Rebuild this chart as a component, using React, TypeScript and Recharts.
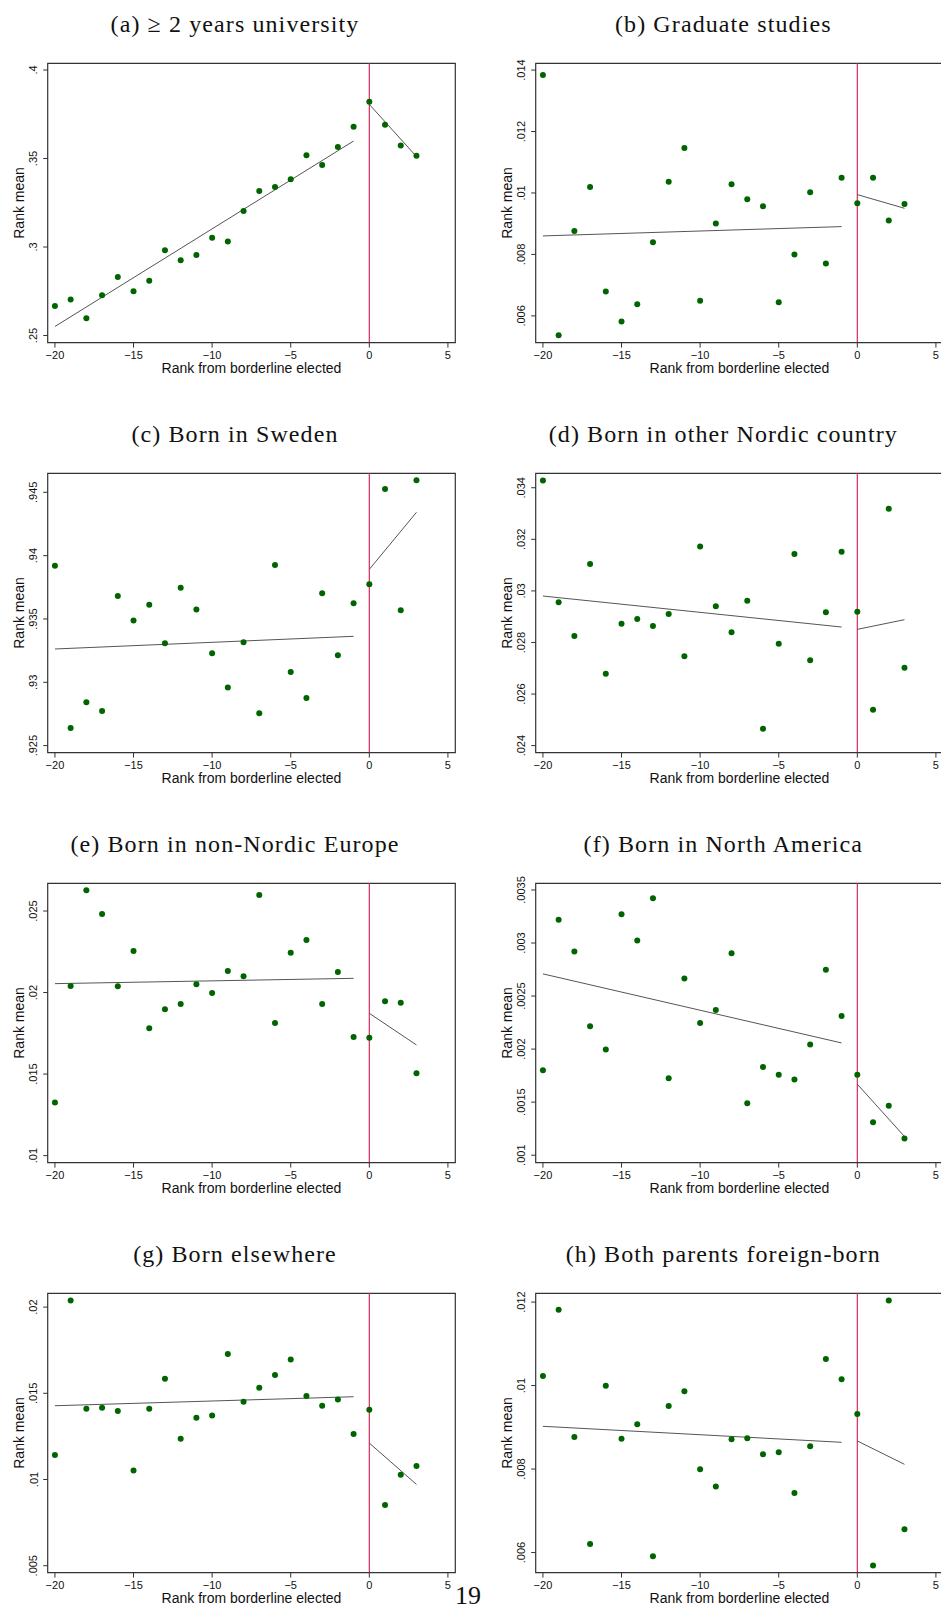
import React from "react";
import {
  ComposedChart,
  Scatter,
  Line,
  XAxis,
  YAxis,
  ReferenceLine,
  ReferenceArea,
  Label,
} from "recharts";

// rank from borderline elected
const RANKS = [-20, -19, -18, -17, -16, -15, -14, -13, -12, -11, -10, -9, -8, -7, -6, -5, -4, -3, -2, -1, 0, 1, 2, 3];
const X_TICKS = [-20, -15, -10, -5, 0, 5];
const X_DOMAIN = [-20.46, 5.47];
const FIT_LEFT_X = [-20, -1];
const FIT_RIGHT_X = [0, 3];

const TITLES = [
  "(a) \u2265 2 years university",
  "(b) Graduate studies",
  "(c) Born in Sweden",
  "(d) Born in other Nordic country",
  "(e) Born in non-Nordic Europe",
  "(f) Born in North America",
  "(g) Born elsewhere",
  "(h) Both parents foreign-born",
];

const UNIV = [0.2667, 0.2703, 0.2598, 0.2728, 0.2831, 0.275, 0.2809, 0.2982, 0.2925, 0.2955, 0.3053, 0.3031, 0.3204, 0.3317, 0.3339, 0.3383, 0.3518, 0.3464, 0.3565, 0.368, 0.3821, 0.3691, 0.3573, 0.3516];
const UNIV_FIT_L = [0.2551, 0.3599];
const UNIV_FIT_R = [0.3806, 0.3511];
const UNIV_TICKS = [0.25, 0.3, 0.35, 0.4];
const UNIV_RANGE = [0.246, 0.4038];

const GRAD = [0.01384, 0.00537, 0.008764, 0.010195, 0.006791, 0.005816, 0.00638, 0.008396, 0.010369, 0.011463, 0.006488, 0.009003, 0.010282, 0.009794, 0.009566, 0.006445, 0.007995, 0.010022, 0.007702, 0.010499, 0.009664, 0.010499, 0.0091, 0.009642];
const GRAD_FIT_L = [0.008602, 0.008905];
const GRAD_FIT_R = [0.009946, 0.009501];
const GRAD_TICKS = [0.006, 0.008, 0.01, 0.012, 0.014];
const GRAD_RANGE = [0.00513, 0.01422];

const SWEDEN = [0.93921, 0.92639, 0.92842, 0.92774, 0.93682, 0.93487, 0.93613, 0.93308, 0.93747, 0.93574, 0.93229, 0.92958, 0.93316, 0.92755, 0.93926, 0.93081, 0.92876, 0.93703, 0.93213, 0.93624, 0.93774, 0.94526, 0.93568, 0.94595];
const SWEDEN_FIT_L = [0.93263, 0.93363];
const SWEDEN_FIT_R = [0.93892, 0.94342];
const SWEDEN_TICKS = [0.925, 0.93, 0.935, 0.94, 0.945];
const SWEDEN_RANGE = [0.92445, 0.9465];

const NORDIC = [0.03428, 0.029556, 0.02825, 0.031041, 0.02679, 0.028729, 0.028909, 0.028638, 0.029103, 0.027462, 0.031726, 0.0294, 0.028393, 0.02962, 0.024659, 0.027953, 0.031429, 0.027307, 0.029168, 0.031519, 0.029194, 0.025395, 0.033186, 0.027023];
const NORDIC_FIT_L = [0.029801, 0.028599];
const NORDIC_FIT_R = [0.028509, 0.028884];
const NORDIC_TICKS = [0.024, 0.026, 0.028, 0.03, 0.032, 0.034];
const NORDIC_RANGE = [0.02373, 0.03456];

const EUROPE = [0.01325, 0.0204, 0.026267, 0.024816, 0.020381, 0.022548, 0.017807, 0.018971, 0.019298, 0.020504, 0.019973, 0.021322, 0.020995, 0.025981, 0.018134, 0.022446, 0.023222, 0.019298, 0.02126, 0.017275, 0.017234, 0.019462, 0.01938, 0.015048];
const EUROPE_FIT_L = [0.020545, 0.020872];
const EUROPE_FIT_R = [0.018726, 0.016785];
const EUROPE_TICKS = [0.01, 0.015, 0.02, 0.025];
const EUROPE_RANGE = [0.00957, 0.0267];

const NAMERICA = [0.001801, 0.00322, 0.002919, 0.002215, 0.001996, 0.003271, 0.003023, 0.003421, 0.001725, 0.002665, 0.002247, 0.002369, 0.002903, 0.00149, 0.001832, 0.001757, 0.001713, 0.002043, 0.002749, 0.002313, 0.001757, 0.001311, 0.001465, 0.001157];
const NAMERICA_FIT_L = [0.002709, 0.002058];
const NAMERICA_FIT_R = [0.001669, 0.001176];
const NAMERICA_TICKS = [0.001, 0.0015, 0.002, 0.0025, 0.003, 0.0035];
const NAMERICA_RANGE = [0.00093, 0.003563];

const ELSEWHERE = [0.011417, 0.020387, 0.014104, 0.014162, 0.013969, 0.010528, 0.014104, 0.015844, 0.012364, 0.013582, 0.013717, 0.017274, 0.01451, 0.015322, 0.016056, 0.016965, 0.014839, 0.014278, 0.014645, 0.012635, 0.014046, 0.008518, 0.010277, 0.010779];
const ELSEWHERE_FIT_L = [0.014278, 0.0148];
const ELSEWHERE_FIT_R = [0.012113, 0.009716];
const ELSEWHERE_TICKS = [0.005, 0.01, 0.015, 0.02];
const ELSEWHERE_RANGE = [0.0046, 0.0208];

const PARENTS = [0.010229, 0.011816, 0.008768, 0.006207, 0.009997, 0.008729, 0.009072, 0.005912, 0.00951, 0.009862, 0.007995, 0.00758, 0.008713, 0.008737, 0.008354, 0.008401, 0.007428, 0.008545, 0.010636, 0.010149, 0.009319, 0.005689, 0.01204, 0.006558];
const PARENTS_FIT_L = [0.009024, 0.008641];
const PARENTS_FIT_R = [0.008673, 0.008114];
const PARENTS_TICKS = [0.006, 0.008, 0.01, 0.012];
const PARENTS_RANGE = [0.00552, 0.01221];

const SANS = "'Liberation Sans', Arial, sans-serif";
const SERIF = "'Liberation Serif', 'Times New Roman', serif";
const DOT = "#006400";
const CUTOFF = "#d6285a";
const FIT = "#555";
const FRAME = "#333";

// chart box and plot area (px)
const CW = 470;
const CH = 340;
const PLOT_L = 47.7;
const PLOT_T = 23.3;
const PLOT_W = 407.6;
const PLOT_H = 279.3;

const fmtY = (v: number) => String(v).replace(/^0\./, ".");
const fmtX = (v: number) => (v < 0 ? "\u2212" + Math.abs(v) : String(v));

const pair = (xs: number[], ys: number[]) => xs.map((x, i) => ({ x, y: ys[i] }));

const panels = [
  { mean: UNIV, fl: UNIV_FIT_L, fr: UNIV_FIT_R, ticks: UNIV_TICKS, range: UNIV_RANGE },
  { mean: GRAD, fl: GRAD_FIT_L, fr: GRAD_FIT_R, ticks: GRAD_TICKS, range: GRAD_RANGE },
  { mean: SWEDEN, fl: SWEDEN_FIT_L, fr: SWEDEN_FIT_R, ticks: SWEDEN_TICKS, range: SWEDEN_RANGE },
  { mean: NORDIC, fl: NORDIC_FIT_L, fr: NORDIC_FIT_R, ticks: NORDIC_TICKS, range: NORDIC_RANGE },
  { mean: EUROPE, fl: EUROPE_FIT_L, fr: EUROPE_FIT_R, ticks: EUROPE_TICKS, range: EUROPE_RANGE },
  { mean: NAMERICA, fl: NAMERICA_FIT_L, fr: NAMERICA_FIT_R, ticks: NAMERICA_TICKS, range: NAMERICA_RANGE },
  { mean: ELSEWHERE, fl: ELSEWHERE_FIT_L, fr: ELSEWHERE_FIT_R, ticks: ELSEWHERE_TICKS, range: ELSEWHERE_RANGE },
  { mean: PARENTS, fl: PARENTS_FIT_L, fr: PARENTS_FIT_R, ticks: PARENTS_TICKS, range: PARENTS_RANGE },
];

const COL_X = [0, 488.3];
const ROW_Y = [40, 450, 860, 1270];

function XTick(props: any) {
  const { x, payload } = props;
  return (
    <text x={x} y={319} textAnchor="middle" fontFamily={SANS} fontSize={11} fill="#111">
      {fmtX(payload.value)}
    </text>
  );
}

function YTick(props: any) {
  const { y, payload } = props;
  const bx = 37.5;
  return (
    <text
      x={bx}
      y={y}
      transform={`rotate(-90, ${bx}, ${y})`}
      textAnchor="middle"
      fontFamily={SANS}
      fontSize={11}
      fill="#111"
    >
      {fmtY(payload.value)}
    </text>
  );
}

function Panel({ p }: { p: (typeof panels)[number] }) {
  const pts = pair(RANKS, p.mean);
  return (
    <ComposedChart
      width={CW}
      height={CH}
      margin={{ top: PLOT_T, right: CW - PLOT_L - PLOT_W, bottom: 0, left: 0 }}
    >
      <XAxis
        type="number"
        dataKey="x"
        domain={X_DOMAIN}
        ticks={X_TICKS}
        interval={0}
        allowDataOverflow
        height={CH - PLOT_T - PLOT_H}
        axisLine={false}
        tickSize={5}
        tickLine={{ stroke: FRAME }}
        tick={XTick}
      >
        <Label
          content={() => (
            <text
              x={PLOT_L + PLOT_W / 2}
              y={333.3}
              textAnchor="middle"
              fontFamily={SANS}
              fontSize={14}
              fill="#111"
            >
              Rank from borderline elected
            </text>
          )}
        />
      </XAxis>
      <YAxis
        type="number"
        dataKey="y"
        domain={p.range}
        ticks={p.ticks}
        interval={0}
        allowDataOverflow
        width={PLOT_L}
        axisLine={false}
        tickSize={4.5}
        tickLine={{ stroke: FRAME }}
        tick={YTick}
      >
        <Label
          content={() => (
            <text
              x={24}
              y={PLOT_T + PLOT_H / 2}
              transform={`rotate(-90, 24, ${PLOT_T + PLOT_H / 2})`}
              textAnchor="middle"
              fontFamily={SANS}
              fontSize={14}
              fill="#111"
            >
              Rank mean
            </text>
          )}
        />
      </YAxis>
      <ReferenceArea
        x1={X_DOMAIN[0]}
        x2={X_DOMAIN[1]}
        y1={p.range[0]}
        y2={p.range[1]}
        fill="none"
        stroke={FRAME}
        strokeWidth={1.2}
        ifOverflow="extendDomain"
      />
      <ReferenceLine x={0} stroke={CUTOFF} strokeWidth={1.2} />
      <Line
        data={pair(FIT_LEFT_X, p.fl)}
        dataKey="y"
        stroke={FIT}
        strokeWidth={1}
        dot={false}
        isAnimationActive={false}
      />
      <Line
        data={pair(FIT_RIGHT_X, p.fr)}
        dataKey="y"
        stroke={FIT}
        strokeWidth={1}
        dot={false}
        isAnimationActive={false}
      />
      <Scatter
        data={pts}
        dataKey="y"
        isAnimationActive={false}
        shape={(s: any) => <circle cx={s.cx} cy={s.cy} r={3} fill={DOT} />}
      />
    </ComposedChart>
  );
}

export default function App() {
  return (
    <div
      style={{
        position: "fixed",
        left: 0,
        top: 0,
        width: 941,
        height: 1611,
        overflow: "hidden",
        background: "#fff",
      }}
    >
      {panels.map((p, i) => {
        const cx = COL_X[i % 2];
        const cy = ROW_Y[Math.floor(i / 2)];
        return (
          <div key={i} style={{ position: "absolute", left: cx, top: cy, width: CW, height: CH }}>
            <Panel p={p} />
          </div>
        );
      })}
      <svg width={941} height={1611} style={{ position: "absolute", left: 0, top: 0, pointerEvents: "none" }}>
        {TITLES.map((t, i) => (
          <text
            key={t}
            x={COL_X[i % 2] + 235}
            y={ROW_Y[Math.floor(i / 2)] - 8.3}
            textAnchor="middle"
            fontFamily={SERIF}
            fontSize={24}
            letterSpacing={1.1}
            fill="#111"
          >
            {t}
          </text>
        ))}
        <text x={468} y={1604} textAnchor="middle" fontFamily={SERIF} fontSize={26} fill="#111">
          19
        </text>
      </svg>
    </div>
  );
}
